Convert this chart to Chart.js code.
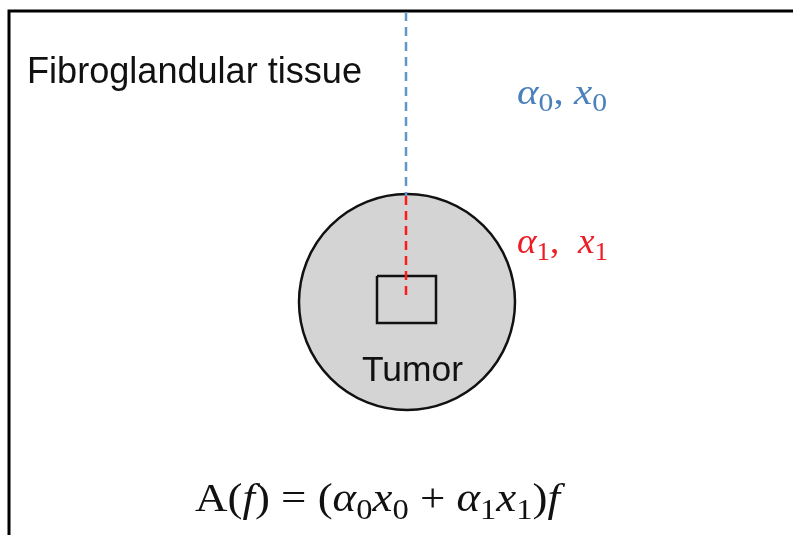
<!DOCTYPE html>
<html>
<head>
<meta charset="utf-8">
<script src="https://cdn.jsdelivr.net/npm/chart.js@4"></script>
<style>
  html, body { margin: 0; padding: 0; background: #fff; }
  #diagram { display: block; }
</style>
</head>
<body>
<canvas id="diagram" width="793" height="535"></canvas>
<script>
// Diagram geometry, in drawing units (x: 0..793, y: 0..535 top-down)
const frameLine = [{x: 9, y: 535}, {x: 9, y: 11}, {x: 793, y: 11}];
const outerRay = [{x: 406, y: 12}, {x: 406, y: 196}];
const innerRay = [{x: 406, y: 196}, {x: 406, y: 300}];
const voxelBox = [{x: 377, y: 276}, {x: 436, y: 276}, {x: 436, y: 323}, {x: 377, y: 323}, {x: 377, y: 276}];
const tumorCircle = [{x: 407, y: 302, r: 108}];

// Text pieces: [text, italic, subscript]
const tissueLabel = [['Fibroglandular tissue', false, false]];
const tumorLabel = [['Tumor', false, false]];
const outerParams = [['α', true, false], ['0', false, true], [', ', false, false], ['x', true, false], ['0', false, true]];
const innerParams = [['α', true, false], ['1', false, true], [',  ', false, false], ['x', true, false], ['1', false, true]];
const formula = [['A(', false, false], ['f', true, false], [') = (', false, false], ['α', true, false], ['0', false, true],
  ['x', true, false], ['0', false, true], [' + ', false, false], ['α', true, false], ['1', false, true],
  ['x', true, false], ['1', false, true], [')', false, false], ['f', true, false]];

const SERIF = '"Liberation Serif", "DejaVu Serif", serif';
const SANS = '"Liberation Sans", Arial, sans-serif';

function pieceFont(p, size, family) {
  const s = p[2] ? Math.round(size * 0.72) : size;
  return (p[1] ? 'italic ' : '') + s + 'px ' + family;
}

function measurePieces(ctx, pieces, size, family) {
  let w = 0;
  pieces.forEach(p => {
    ctx.font = pieceFont(p, size, family);
    w += ctx.measureText(p[0]).width;
  });
  return w;
}

// draws a run of text pieces, x = left edge, y = baseline, stretched to width
function drawPieces(ctx, pieces, x, y, size, family, color, width) {
  const natural = measurePieces(ctx, pieces, size, family);
  const sx = width ? width / natural : 1;
  ctx.save();
  ctx.translate(x, y);
  ctx.scale(sx, 1);
  ctx.fillStyle = color;
  ctx.textBaseline = 'alphabetic';
  ctx.textAlign = 'left';
  let cx = 0;
  pieces.forEach(p => {
    ctx.font = pieceFont(p, size, family);
    ctx.fillText(p[0], cx, p[2] ? size * 0.2 : 0);
    cx += ctx.measureText(p[0]).width;
  });
  ctx.restore();
}

const shapesPlugin = {
  id: 'shapes',
  beforeDatasetsDraw(chart) {
    const {ctx, scales: {x, y}} = chart;
    ctx.save();
    tumorCircle.forEach(c => {
      const px = x.getPixelForValue(c.x);
      const py = y.getPixelForValue(c.y);
      const pr = x.getPixelForValue(c.x + c.r) - px;
      ctx.beginPath();
      ctx.arc(px, py, pr, 0, Math.PI * 2);
      ctx.fillStyle = '#d4d4d4';
      ctx.fill();
      ctx.lineWidth = 2.5;
      ctx.strokeStyle = '#111';
      ctx.stroke();
    });
    ctx.restore();
  },
  afterDatasetsDraw(chart) {
    const {ctx, scales: {x, y}} = chart;
    const px = v => x.getPixelForValue(v);
    const py = v => y.getPixelForValue(v);
    drawPieces(ctx, tissueLabel, px(27), py(83), 36, SANS, '#111', px(362) - px(27));
    drawPieces(ctx, tumorLabel, px(362), py(381), 35, SANS, '#111', px(463) - px(362));
    drawPieces(ctx, outerParams, px(517), py(104), 36, SERIF, '#4a80bc', px(607) - px(517));
    drawPieces(ctx, innerParams, px(517), py(253), 36, SERIF, '#ee1c24', px(608) - px(517));
    drawPieces(ctx, formula, px(195), py(511), 40, SERIF, '#111', px(560) - px(195));
  }
};

function lineSet(data, color, width, dash, order) {
  return {
    data: data,
    borderColor: color,
    borderWidth: width,
    borderDash: dash,
    pointRadius: 0,
    showLine: true,
    fill: false,
    tension: 0,
    order: order
  };
}

new Chart(document.getElementById('diagram'), {
  type: 'scatter',
  data: {
    datasets: [
      lineSet(innerRay, '#ff1a1a', 2.5, [9, 6], 0),
      lineSet(voxelBox, '#111', 2.5, [], 1),
      lineSet(outerRay, '#5e97c8', 2.5, [9, 6], 2),
      lineSet(frameLine, '#000', 3, [], 3)
    ]
  },
  options: {
    responsive: false,
    animation: false,
    layout: {padding: 0},
    scales: {
      x: {type: 'linear', min: 0, max: 793, display: false},
      y: {type: 'linear', min: 0, max: 535, reverse: true, display: false}
    },
    plugins: {
      legend: {display: false},
      tooltip: {enabled: false}
    }
  },
  plugins: [shapesPlugin]
});
</script>
</body>
</html>
